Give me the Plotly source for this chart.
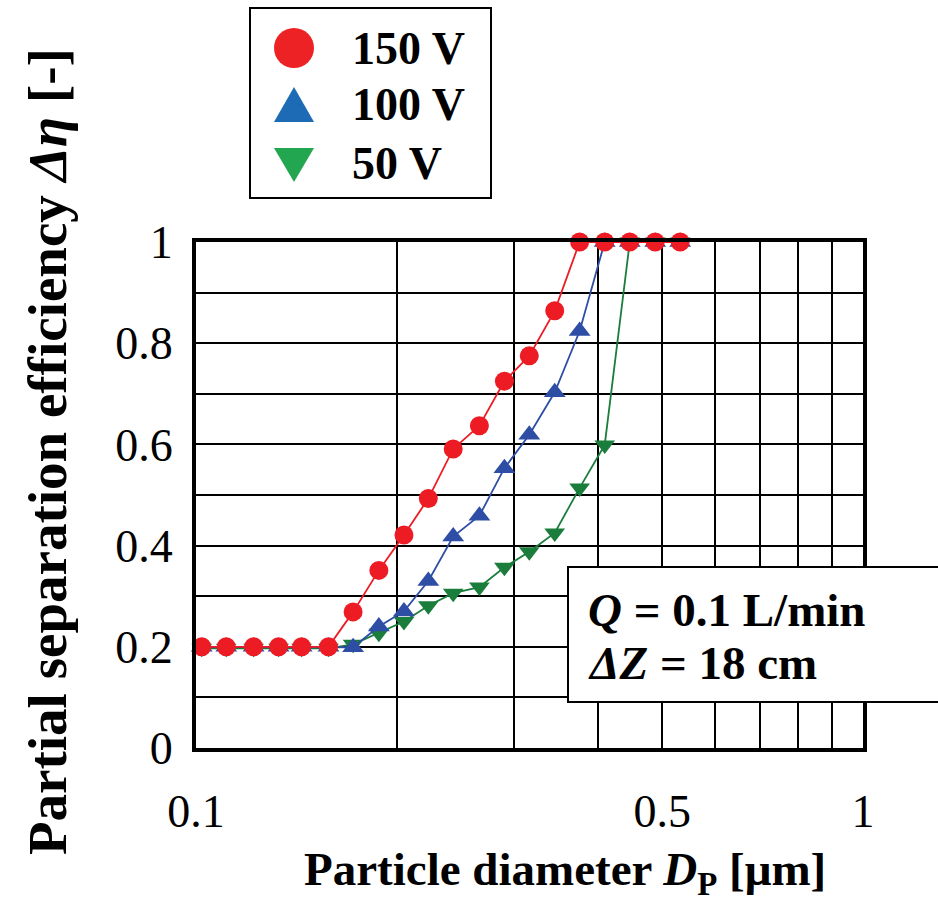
import plotly.graph_objects as go

# ---------------- data ----------------
diameter_um = [0.102, 0.111, 0.122, 0.133, 0.144, 0.158, 0.172, 0.188, 0.205, 0.223,
               0.243, 0.266, 0.290, 0.316, 0.345, 0.376, 0.410, 0.447, 0.488, 0.532]
eff_150V = [0.20, 0.20, 0.20, 0.20, 0.20, 0.20, 0.269, 0.351, 0.421, 0.493,
            0.591, 0.637, 0.725, 0.775, 0.864, 1.0, 1.0, 1.0, 1.0, 1.0]
eff_100V = [0.20, 0.20, 0.20, 0.20, 0.20, 0.20, 0.199, 0.240, 0.270, 0.330,
            0.418, 0.459, 0.553, 0.619, 0.703, 0.824, 1.0, 1.0, 1.0, 1.0]
eff_50V = [0.197, 0.197, 0.197, 0.197, 0.197, 0.197, 0.205, 0.227, 0.250, 0.281,
           0.306, 0.318, 0.357, 0.388, 0.425, 0.514, 0.599, 1.0, 1.0, 1.0]
series_names = ["150 V", "100 V", "50 V"]
x_tickvals = [0.1, 0.5, 1.0]
x_ticktext = ["0.1", "0.5", "1"]
x_minor_vals = [0.2, 0.3, 0.4, 0.6, 0.7, 0.8, 0.9]
y_tickvals = [0, 0.2, 0.4, 0.6, 0.8, 1.0]
y_ticktext = ["0", "0.2", "0.4", "0.6", "0.8", "1"]
y_minor_vals = [0.1, 0.3, 0.5, 0.7, 0.9]

# ---------------- styling ----------------
W, H = 938, 903
L, R, T, B = 196, 75, 242, 155
PW, PH = W - L - R, H - T - B
FONT = "Liberation Serif, Times New Roman, serif"

RED, BLUE, GREEN = "#ED1C24", "#2E4EA6", "#1A7D3C"
LRED, LBLUE, LGREEN = "#ED2224", "#1E6BB5", "#22A650"


def px(x):
    return (x - L) / PW


def py(y):
    return (H - B - y) / PH


fig = go.Figure()
fig.add_trace(go.Scatter(x=diameter_um, y=eff_50V, name=series_names[2], mode="lines+markers",
                         line=dict(color=GREEN, width=1.8),
                         marker=dict(symbol="triangle-down", size=18, color=GREEN),
                         cliponaxis=False))
fig.add_trace(go.Scatter(x=diameter_um, y=eff_100V, name=series_names[1], mode="lines+markers",
                         line=dict(color=BLUE, width=1.8),
                         marker=dict(symbol="triangle-up", size=19, color=BLUE),
                         cliponaxis=False))
fig.add_trace(go.Scatter(x=diameter_um, y=eff_150V, name=series_names[0], mode="lines+markers",
                         line=dict(color=RED, width=1.8),
                         marker=dict(symbol="circle", size=19, color=RED),
                         cliponaxis=False))

shapes = []
# legend box
shapes.append(dict(type="rect", xref="paper", yref="paper",
                   x0=px(250), x1=px(491), y0=py(198), y1=py(8),
                   line=dict(color="black", width=2), fillcolor="white", layer="above"))
# legend symbols
shapes.append(dict(type="circle", xref="paper", yref="paper",
                   x0=px(274), x1=px(314), y0=py(68), y1=py(28),
                   line=dict(width=0), fillcolor=LRED, layer="above"))
shapes.append(dict(type="path", xref="paper", yref="paper",
                   path=f"M {px(274)} {py(122)} L {px(314)} {py(122)} L {px(294)} {py(87)} Z",
                   line=dict(width=0), fillcolor=LBLUE, layer="above"))
shapes.append(dict(type="path", xref="paper", yref="paper",
                   path=f"M {px(274)} {py(148)} L {px(314)} {py(148)} L {px(294)} {py(182)} Z",
                   line=dict(width=0), fillcolor=LGREEN, layer="above"))
# condition box
shapes.append(dict(type="rect", xref="paper", yref="paper",
                   x0=px(568), x1=px(960), y0=py(702), y1=py(567),
                   line=dict(color="black", width=2), fillcolor="white", layer="above"))

annotations = []
for name, yc in zip(series_names, [48, 104, 163]):
    annotations.append(dict(xref="paper", yref="paper", x=px(350), y=py(yc),
                            xanchor="left", yanchor="middle", showarrow=False,
                            text=f"<b>{name}</b>",
                            font=dict(family=FONT, size=46, color="black")))
annotations.append(dict(xref="paper", yref="paper", x=px(586), y=py(610),
                        xanchor="left", yanchor="middle", showarrow=False,
                        text="<b><i>Q</i> = 0.1 L/min</b>",
                        font=dict(family=FONT, size=47, color="black")))
annotations.append(dict(xref="paper", yref="paper", x=px(586), y=py(663),
                        xanchor="left", yanchor="middle", showarrow=False,
                        text="<b><i>ΔZ</i> = 18 cm</b>",
                        font=dict(family=FONT, size=47, color="black")))
# axis titles
annotations.append(dict(xref="paper", yref="paper", x=px(565), y=py(872),
                        xanchor="center", yanchor="middle", showarrow=False,
                        text="<b>Particle diameter <i>D</i><sub>P</sub> [μm]</b>",
                        font=dict(family=FONT, size=47, color="black")))
annotations.append(dict(xref="paper", yref="paper", x=px(47), y=py(452),
                        xanchor="center", yanchor="middle", showarrow=False, textangle=-90,
                        text="<b>Partial separation efficiency <i>Δη</i> [-]</b>",
                        font=dict(family=FONT, size=55, color="black")))

fig.update_layout(
    width=W, height=H,
    margin=dict(l=L, r=R, t=T, b=B),
    paper_bgcolor="white", plot_bgcolor="white",
    showlegend=False,
    shapes=shapes, annotations=annotations,
    font=dict(family=FONT, color="black"),
)
fig.update_xaxes(type="log", range=[-1, 0],
                 tickmode="array", tickvals=x_tickvals, ticktext=x_ticktext,
                 showgrid=True, gridcolor="black", gridwidth=2,
                 minor=dict(tickmode="array", tickvals=x_minor_vals, showgrid=True,
                            gridcolor="black", gridwidth=2, ticks=""),
                 showline=True, linecolor="black", linewidth=4, mirror=True,
                 ticks="", ticklabelstandoff=20,
                 tickfont=dict(family=FONT, size=46, color="black"),
                 zeroline=False)
fig.update_yaxes(range=[0, 1],
                 tickmode="array", tickvals=y_tickvals, ticktext=y_ticktext,
                 showgrid=True, gridcolor="black", gridwidth=2,
                 minor=dict(tickmode="array", tickvals=y_minor_vals, showgrid=True,
                            gridcolor="black", gridwidth=2, ticks=""),
                 showline=True, linecolor="black", linewidth=4, mirror=True,
                 ticks="", ticklabelstandoff=10,
                 tickfont=dict(family=FONT, size=46, color="black"),
                 zeroline=False)

fig.write_html("out.html")
